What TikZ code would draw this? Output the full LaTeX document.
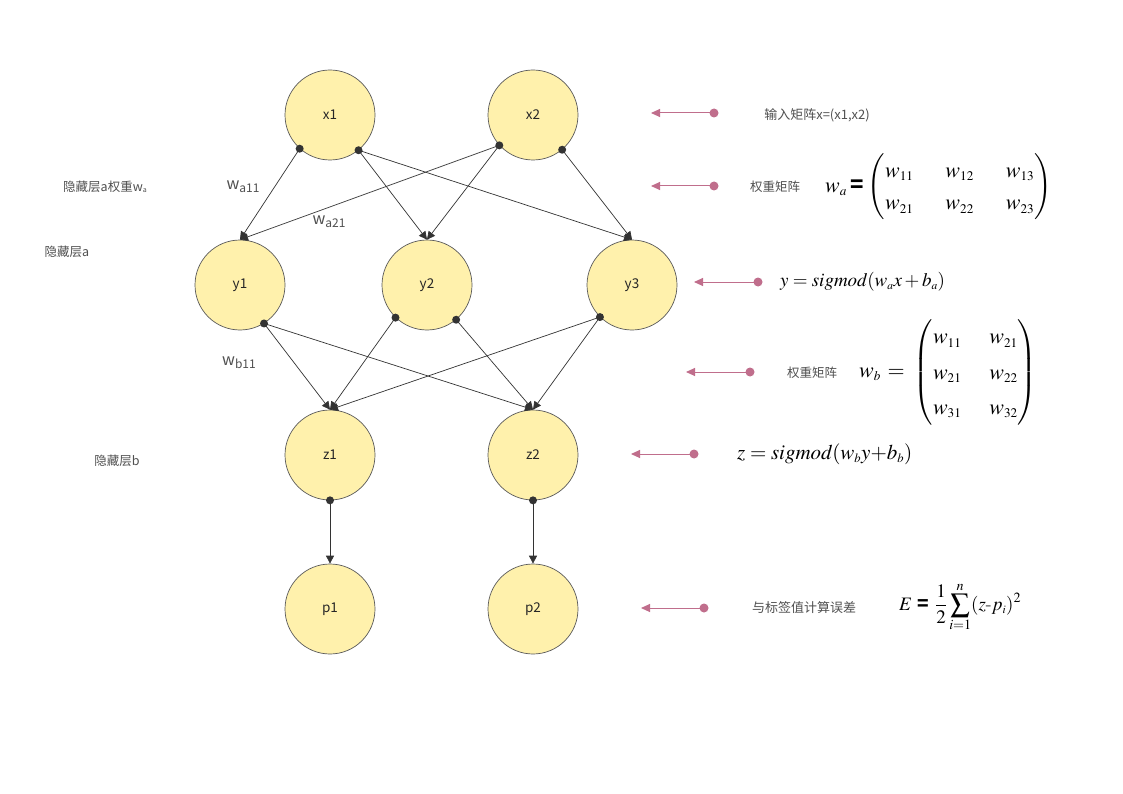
\RequirePackage{fix-cm}
\documentclass[tikz,border=0pt]{standalone}
\usepackage{amsmath}
\usepackage{mathptmx}
\usepackage{fontspec}
\newfontfamily\cjk{Noto Sans CJK SC}
\usetikzlibrary{arrows.meta}
\definecolor{nodefill}{RGB}{255,241,172}
\definecolor{nodeline}{RGB}{90,90,90}
\definecolor{edge}{RGB}{51,51,51}
\definecolor{pinkc}{RGB}{192,110,140}
\definecolor{txt}{RGB}{80,80,80}
\tikzset{
  neuron/.style={circle,draw=nodeline,line width=0.7pt,fill=nodefill,minimum size=90pt,inner sep=0pt,font=\cjk\fontsize{13.5}{15}\selectfont,text=black!85},
  conn/.style={draw=edge,line width=0.7pt,-{Triangle[length=8pt,width=8pt]}},
  startdot/.style={fill=edge},
  pinkarrow/.style={draw=pinkc,line width=1pt,-{Triangle[length=9pt,width=8pt]}},
  pinkdot/.style={fill=pinkc},
  lab/.style={font=\cjk\fontsize{12.5}{14}\selectfont,text=txt,inner sep=0pt},
  wlab/.style={font=\cjk\fontsize{16}{18}\selectfont,text=txt,inner sep=0pt},
  formula/.style={inner sep=0pt,text=black}
}
\begin{document}
\begin{tikzpicture}[x=1pt,y=-1pt]
\useasboundingbox[fill=white] (0,0) rectangle (1123,794);
% neurons
\node[neuron] (x1) at (330,115) {x1};
\node[neuron] (x2) at (533,115) {x2};
\node[neuron] (y1) at (240,285) {y1};
\node[neuron] (y2) at (427,285) {y2};
\node[neuron] (y3) at (632,285) {y3};
\node[neuron] (z1) at (330,455) {z1};
\node[neuron] (z2) at (533,455) {z2};
\node[neuron] (p1) at (330,609) {p1};
\node[neuron] (p2) at (533,609) {p2};
% start points
\coordinate (x1a) at (x1.228);
\coordinate (x1b) at (x1.-51);
\coordinate (x2a) at (x2.222);
\coordinate (x2b) at (x2.-50);
\coordinate (y1a) at (y1.-58);
\coordinate (y2a) at (y2.226);
\coordinate (y2b) at (y2.-50);
\coordinate (y3a) at (y3.225);
\coordinate (z1a) at (z1.south);
\coordinate (z2a) at (z2.south);
% connectors
\draw[conn] (x1a) -- (y1.north);
\draw[conn] (x1b) -- (y2.north);
\draw[conn] (x1b) -- (y3.north);
\draw[conn] (x2a) -- (y1.north);
\draw[conn] (x2a) -- (y2.north);
\draw[conn] (x2b) -- (y3.north);
\draw[conn] (y1a) -- (z1.north);
\draw[conn] (y1a) -- (z2.north);
\draw[conn] (y2a) -- (z1.north);
\draw[conn] (y2b) -- (z2.north);
\draw[conn] (y3a) -- (z1.north);
\draw[conn] (y3a) -- (z2.north);
\draw[conn] (z1a) -- (p1.north);
\draw[conn] (z2a) -- (p2.north);
\foreach \p in {x1a,x1b,x2a,x2b,y1a,y2a,y2b,y3a,z1a,z2a}
  \fill[startdot] (\p) circle (4pt);
% weight labels
\node[wlab] (wa11) at (243,187) {w\raisebox{-3pt}{\fontsize{12}{13}\selectfont a11}};
\node[wlab] (wa21) at (329,222) {w\raisebox{-3pt}{\fontsize{12}{13}\selectfont a21}};
\node[wlab] (wb11) at (239,363) {w\raisebox{-3pt}{\fontsize{12}{13}\selectfont b11}};
% left labels
\node[lab] (la) at (105,187) {隐藏层a权重w\raisebox{-1.5pt}{\fontsize{7}{8}\selectfont a}};
\node[lab] (lb) at (67,252) {隐藏层a};
\node[lab] (lc) at (117,461) {隐藏层b};
% pink arrows
\coordinate (d1) at (714,113); \coordinate (t1) at (651,113);
\coordinate (d2) at (714,186); \coordinate (t2) at (651,186);
\coordinate (d3) at (758,282); \coordinate (t3) at (694,282);
\coordinate (d4) at (750,372); \coordinate (t4) at (686,372);
\coordinate (d5) at (694,454); \coordinate (t5) at (631,454);
\coordinate (d6) at (704,608); \coordinate (t6) at (641,608);
\foreach \i in {1,...,6}{
  \draw[pinkarrow] (d\i) -- (t\i);
  \fill[pinkdot] (d\i) circle (4.5pt);
}
% right texts
\node[lab,font=\cjk\fontsize{13}{15}\selectfont] (r1) at (817,115) {输入矩阵x=(x1,x2)};
\node[lab] (r2) at (775,187) {权重矩阵};
\node[formula,anchor=west] (f2) at (825,187) {\fontsize{22}{26}\selectfont
  $w_{\scriptscriptstyle a}$\,{\cjk\bfseries =}\,$\setlength{\arraycolsep}{16pt}\renewcommand{\arraystretch}{1.25}
  \begin{pmatrix} w_{\scriptscriptstyle 11} & w_{\scriptscriptstyle 12} & w_{\scriptscriptstyle 13}\\ w_{\scriptscriptstyle 21} & w_{\scriptscriptstyle 22} & w_{\scriptscriptstyle 23}\end{pmatrix}$};
\node[formula,anchor=west] (f3) at (780,282) {\fontsize{19}{22}\selectfont
  $y = \mathit{sigmod}(w_{\scriptscriptstyle a}x + b_{\scriptscriptstyle a})$};
\node[lab] (r4) at (812,373) {权重矩阵};
\node[formula,anchor=west] (f4) at (859,372) {\fontsize{22}{26}\selectfont
  $w_{\scriptscriptstyle b}\ {=}\ \setlength{\arraycolsep}{14pt}\renewcommand{\arraystretch}{1.35}
  \begin{pmatrix} w_{\scriptscriptstyle 11} & w_{\scriptscriptstyle 21}\\ w_{\scriptscriptstyle 21} & w_{\scriptscriptstyle 22}\\ w_{\scriptscriptstyle 31} & w_{\scriptscriptstyle 32}\end{pmatrix}$};
\node[formula,anchor=west] (f5) at (737,454) {\fontsize{21}{24}\selectfont
  $z = \mathit{sigmod}(w_{\scriptscriptstyle b}y{+}b_{\scriptscriptstyle b})$};
\node[lab,font=\cjk\fontsize{13}{15}\selectfont] (r6) at (804,608) {与标签值计算误差};
\node[formula,anchor=west] (f6) at (899,607) {\fontsize{19}{22}\selectfont
  $\displaystyle E\ \text{\cjk\bfseries =}\ \frac{1}{2}\sum_{i=1}^{n}(z\text{-}p_{\scriptscriptstyle i})^2$};
\end{tikzpicture}
\end{document}
